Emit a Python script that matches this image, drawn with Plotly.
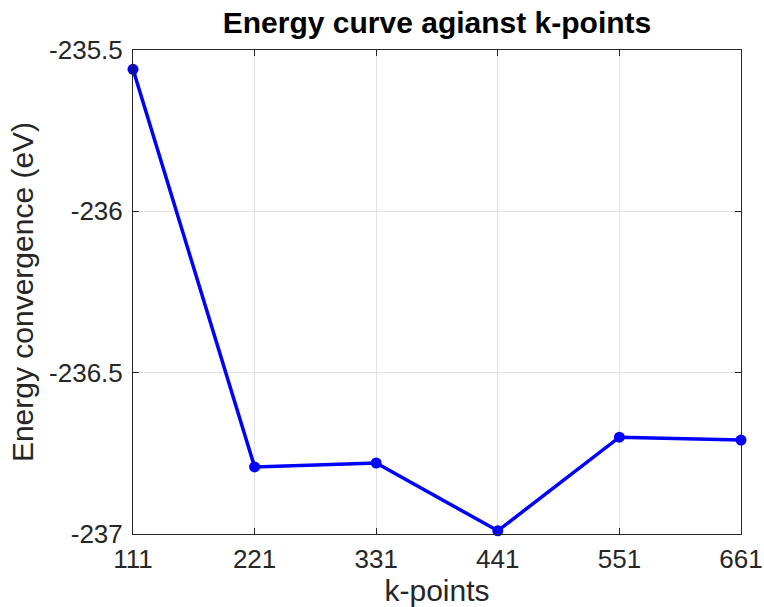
import plotly.graph_objects as go

kpoints = ["111", "221", "331", "441", "551", "661"]
energy = [-235.56, -236.792, -236.780, -236.99, -236.70, -236.709]
yticks = [-237, -236.5, -236, -235.5]
ytick_labels = ["-237", "-236.5", "-236", "-235.5"]

x = list(range(len(kpoints)))

fig = go.Figure()
fig.add_trace(go.Scatter(
    x=x, y=energy, mode="lines+markers",
    line=dict(color="#0000FF", width=3.5),
    marker=dict(color="#0000FF", size=11),
    showlegend=False, cliponaxis=False,
))

FONT = "Liberation Sans, Arial"
axis_common = dict(
    showline=True, linecolor="#262626", linewidth=1, mirror="allticks",
    ticks="inside", ticklen=6, tickcolor="#262626",
    showgrid=True, gridcolor="#e3e3e3", gridwidth=1,
    zeroline=False, automargin=False,
    tickfont=dict(family=FONT, size=26, color="#262626"),
)

fig.update_layout(
    width=764, height=607,
    margin=dict(l=133, r=23, t=50, b=73),
    paper_bgcolor="white", plot_bgcolor="white",
    title=dict(text="<b>Energy curve agianst k-points</b>", x=0.5, xanchor="center",
               xref="paper", y=0.963, yanchor="middle", automargin=False,
               font=dict(family=FONT, size=30, color="black")),
    xaxis=dict(**axis_common, range=[0, 5], tickvals=x, ticktext=kpoints,
               ticklabelstandoff=2,
               title=dict(text="k-points", standoff=0,
                          font=dict(family=FONT, size=30, color="#262626"))),
    yaxis=dict(**axis_common, range=[-237, -235.5], tickvals=yticks, ticktext=ytick_labels,
               ticklabelstandoff=4,
               title=dict(text="Energy convergence (eV)", standoff=6,
                          font=dict(family=FONT, size=30, color="#262626"))),
)

fig.write_html("out.html")
